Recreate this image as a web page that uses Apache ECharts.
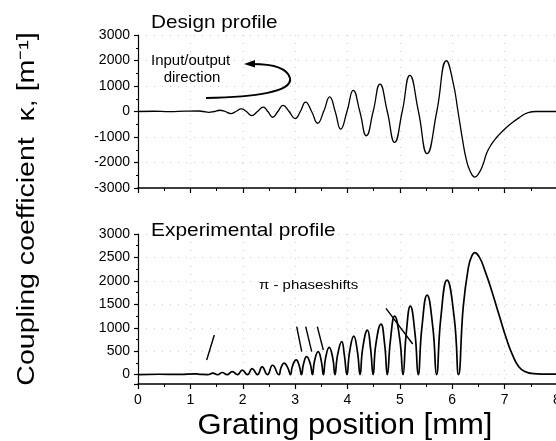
<!DOCTYPE html>
<html><head><meta charset="utf-8">
<script src="https://cdn.jsdelivr.net/npm/echarts@6/dist/echarts.min.js"></script>
<style>html,body{margin:0;padding:0;background:#fff}#c{width:556px;height:441px}</style>
</head><body><div id="c"></div>
<script>
// Grating position [mm] and design coupling coefficient [1/m]
const designPos = [0, 0.3, 0.6, 0.9, 1.15, 1.25, 1.35, 1.455, 1.56, 1.665, 1.77, 1.87, 1.97, 2.07, 2.17, 2.28, 2.39, 2.48, 2.57, 2.67, 2.77, 2.885, 3.0, 3.1, 3.2, 3.315, 3.43, 3.545, 3.66, 3.765, 3.87, 3.99, 4.11, 4.235, 4.36, 4.49, 4.62, 4.76, 4.9, 5.045, 5.19, 5.355, 5.52, 5.705, 5.89, 6.02, 6.11, 6.2, 6.27, 6.34, 6.43, 6.5, 6.58, 6.66, 6.75, 6.85, 6.94, 7.1, 7.29, 7.45, 7.6, 8];
const designKappa = [0, 10, -8, 12, 20, 0, -35, 0, 50, 0, -80, 0, 100, 0, -160, 0, 170, 0, -225, 0, 240, 0, -280, 0, 370, 0, -460, 0, 570, 0, -690, 0, 830, 0, -950, 0, 1070, 0, -1210, 0, 1420, 0, -1650, 0, 1990, 1100, 0, -1150, -1900, -2330, -2570, -2450, -2120, -1620, -1280, -1010, -815, -510, -225, -40, 0, 0];

// Grating position [mm] and experimental coupling coefficient [1/m]
const expPos = [0, 0.4, 0.8, 1.1, 1.2, 1.33, 1.43, 1.52, 1.61, 1.70, 1.80, 1.90, 1.99, 2.09, 2.18, 2.28, 2.37, 2.47, 2.57, 2.69, 2.73, 2.79, 2.86, 2.91, 2.95, 3.02, 3.08, 3.12, 3.16, 3.22, 3.29, 3.33, 3.37, 3.44, 3.50, 3.54, 3.58, 3.65, 3.72, 3.76, 3.81, 3.89, 3.94, 3.99, 4.04, 4.12, 4.19, 4.24, 4.29, 4.38, 4.44, 4.49, 4.54, 4.64, 4.71, 4.76, 4.82, 4.90, 5.00, 5.06, 5.12, 5.20, 5.29, 5.35, 5.42, 5.52, 5.63, 5.70, 5.78, 5.90, 6.04, 6.12, 6.21, 6.31, 6.37, 6.43, 6.52, 6.62, 6.75, 6.90, 7.03, 7.15, 7.27, 7.40, 7.55, 7.70, 8];
const expKappa = [0, 8, 5, 15, 5, 0, 30, 0, 45, 0, 65, 0, 95, 0, 130, 0, 165, 0, 200, 0, 145, 245, 145, 0, 185, 313, 185, 0, 226, 383, 226, 0, 289, 490, 289, 0, 344, 583, 344, 0, 415, 703, 415, 0, 486, 823, 486, 0, 561, 951, 561, 0, 637, 1079, 637, 0, 737, 1249, 737, 0, 863, 1462, 863, 0, 1001, 1696, 1001, 0, 1189, 2015, 1189, 0, 1450, 2300, 2520, 2604, 2500, 2230, 1800, 1250, 780, 420, 170, 60, 20, 10, 10];

const xRange = [0, 8];
const designRange = [-3000, 3000];
const expRange = [-200, 3000];

const titles = ['Design profile', 'Experimental profile'];
const xTitle = 'Grating position [mm]';
const yTitle = 'Coupling coefficient  \u03ba, [m\u207b\u00b9]';
const noteIO = ['Input/output', 'direction'];
const notePhase = '\u03c0 - phaseshifts';

const FONT = "'Liberation Sans', Arial, Helvetica, sans-serif";

function xAxisCfg(gi, showLabels) {
  return {
    type: 'value', gridIndex: gi, min: xRange[0], max: xRange[1], interval: 1,
    axisLine: { onZero: false, lineStyle: { color: '#000', width: 1.5 } },
    axisTick: { inside: false, length: 5, lineStyle: { color: '#000', width: 1.2 } },
    minorTick: { show: true, splitNumber: 2, length: 3, lineStyle: { color: '#000', width: 1 } },
    axisLabel: { show: showLabels, color: '#000', fontSize: 14, fontFamily: FONT, margin: 9,
      showMinLabel: true, showMaxLabel: true, formatter: v => String(v) },
    splitLine: { show: true, lineStyle: { color: '#cccccc', type: [1, 7], width: 1 } }
  };
}
function yAxisCfg(gi, range, step) {
  return {
    type: 'value', gridIndex: gi, min: range[0], max: range[1],
    minInterval: step, maxInterval: step, splitNumber: 6,
    axisLine: { show: true, onZero: false, lineStyle: { color: '#000', width: 1.2 } },
    axisTick: { show: true, inside: false, length: 4, lineStyle: { color: '#000', width: 1.2 } },
    minorTick: { show: true, splitNumber: 2, length: 2, lineStyle: { color: '#000', width: 1 } },
    axisLabel: { color: '#000', fontSize: 14, fontFamily: FONT, margin: 8,
      showMinLabel: true, showMaxLabel: true,
      formatter: v => (gi === 1 && v < 0) ? '' : String(v) },
    splitLine: { show: true, lineStyle: { color: '#cccccc', type: [1, 7], width: 1 } }
  };
}

function txt(text, x, y, size, opts) {
  opts = opts || {};
  return {
    type: 'text', x: x, y: y, rotation: opts.rotation || 0,
    scaleX: opts.scaleX || 1, scaleY: 1, z: 100,
    style: { text: text, fill: '#000', fontSize: size, fontFamily: FONT,
      textAlign: opts.align || 'left', textVerticalAlign: 'middle',
      align: opts.align || 'left', verticalAlign: 'middle' }
  };
}
function seg(x1, y1, x2, y2, w) {
  return { type: 'line', z: 100, shape: { x1, y1, x2, y2 }, style: { stroke: '#000', lineWidth: w || 1.4 } };
}

const chart = echarts.init(document.getElementById('c'), null, { renderer: 'canvas' });
chart.setOption({
  animation: false,
  backgroundColor: '#fff',
  grid: [
    { left: 138, right: -1, top: 35, height: 153, outerBoundsMode: 'none' },
    { left: 138, right: -1, top: 234, height: 150, outerBoundsMode: 'none' }
  ],
  xAxis: [xAxisCfg(0, false), xAxisCfg(1, true)],
  yAxis: [yAxisCfg(0, designRange, 1000), yAxisCfg(1, expRange, 500)],
  series: [
    { type: 'line', xAxisIndex: 0, yAxisIndex: 0, symbol: 'none', smooth: 0.5,
      data: designPos.map((x, i) => [x, designKappa[i]]),
      lineStyle: { color: '#000', width: 1.3 } },
    { type: 'line', xAxisIndex: 1, yAxisIndex: 1, symbol: 'none', smooth: 0.5,
      data: expPos.map((x, i) => [x, expKappa[i]]),
      lineStyle: { color: '#000', width: 1.7 } }
  ],
  graphic: [
    txt(titles[0], 151, 22.5, 19, { scaleX: 1.09 }),
    txt(titles[1], 151, 230.5, 19, { scaleX: 1.1 }),
    txt(xTitle, 345, 426, 29, { align: 'center', scaleX: 1.07 }),
    txt(yTitle, 28, 209, 23, { align: 'center', rotation: Math.PI / 2, scaleX: 1.24 }),
    txt(noteIO[0], 151, 61, 15),
    txt(noteIO[1], 192, 78, 15, { align: 'center' }),
    txt(notePhase, 259, 285, 13, { scaleX: 1.15 }),
    { type: 'bezierCurve', z: 100, shape: { x1: 206, y1: 98, cpx1: 255, cpy1: 97, cpx2: 293, cpy2: 92, x2: 290, y2: 78 },
      style: { stroke: '#000', lineWidth: 2, fill: null } },
    { type: 'bezierCurve', z: 100, shape: { x1: 290, y1: 78, cpx1: 287, cpy1: 67, cpx2: 270, cpy2: 64, x2: 252, y2: 64 },
      style: { stroke: '#000', lineWidth: 2, fill: null } },
    { type: 'polygon', z: 100, shape: { points: [[244, 64], [255, 60], [255, 67.5]] }, style: { fill: '#000' } },
    seg(206.7, 360, 214.3, 335),
    seg(296.7, 326.7, 301.7, 351.7),
    seg(305.7, 326.7, 311.7, 351.7),
    seg(317.3, 326.7, 323.3, 350),
    seg(386, 308.3, 412.7, 344)
  ]
});
</script>
</body></html>
